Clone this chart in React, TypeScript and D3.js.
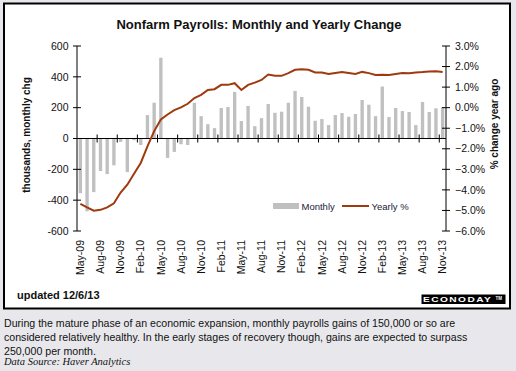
import React from 'react';
import * as d3 from 'd3';

// monthly payroll change, thousands (May-09 .. Nov-13)
const monthly = [
  -355, -472, -348, -211, -231, -174, -22, -218, -11, -42,
  152, 232, 524, -126, -87, -37, -42, 232, 145, 93,
  67, 198, 204, 302, 113, 211, 80, 132, 224, 167,
  174, 232, 309, 269, 206, 115, 126, 87, 152, 165,
  141, 159, 250, 219, 145, 337, 139, 198, 178, 172,
  87, 237, 172, 196, 203,
];
// yearly % change
const yearly = [
  -4.68, -4.85, -5.01, -4.97, -4.85, -4.65, -4.13, -3.75, -3.21, -2.69,
  -1.88, -1.14, -0.57, -0.33, -0.12, 0.01, 0.19, 0.47, 0.62, 0.86,
  0.9, 1.11, 1.11, 1.19, 0.86, 1.11, 1.22, 1.35, 1.61, 1.55,
  1.55, 1.68, 1.84, 1.87, 1.84, 1.71, 1.71, 1.64, 1.69, 1.73,
  1.69, 1.64, 1.74, 1.68, 1.59, 1.6, 1.59, 1.64, 1.69, 1.68,
  1.71, 1.73, 1.76, 1.77, 1.74,
];
const leftTicks = [600, 400, 200, 0, -200, -400, -600];
const rightTicks = [3, 2, 1, 0, -1, -2, -3, -4, -5, -6];
const fmtMonth = d3.timeFormat('%b-%y');
const months = d3.timeMonths(new Date(2009, 4, 1), new Date(2013, 11, 1)).map(fmtMonth);

const W = 516, H = 371;
const left = 77, right = 446, top = 46, bottom = 231;
const lineColor = '#9e3a0e';
const font = 'Arial, "Liberation Sans", sans-serif';

export default function App() {
  const x = d3.scaleBand().domain(months).range([left, right]).paddingInner(0.5).paddingOuter(0.25);
  const yL = d3.scaleLinear().domain([-600, 600]).range([bottom, top]);
  const yR = d3.scaleLinear().domain([-6, 3]).range([bottom, top]);
  const gap = (x.step() - x.bandwidth()) / 2;
  const cx = (m: string) => (x(m) as number) + x.bandwidth() / 2;
  const line = d3.line<number>().x((_, i) => cx(months[i])).y(d => yR(d));
  const y0 = yL(0);
  const boundaries = months.map((m, i) => i).filter(i => i > 0 && i % 3 === 0);
  const labelled = months.filter((m, i) => i % 3 === 0);
  const fmtPct = d3.format('.1f');

  return (
    <svg width={W} height={H} style={{ position: 'absolute', left: 0, top: 0 }} fontFamily={font}>
      <rect x={0} y={0} width={W} height={H} fill="#e8e8ec" />
      <rect x={4} y={3.5} width={506} height={305} fill="#fff" stroke="#000" strokeWidth={2} />
      <text x={259} y={29} textAnchor="middle" fontSize={13} fontWeight="bold" fill="#111">
        Nonfarm Payrolls: Monthly and Yearly Change
      </text>

      {/* bars */}
      {monthly.map((v, i) => (
        <rect key={i} x={x(months[i])} width={x.bandwidth()} y={Math.min(yL(v), y0)}
          height={Math.abs(yL(v) - y0)} fill="#c0c0c0" />
      ))}

      {/* axes */}
      <line x1={left} x2={left} y1={top} y2={bottom} stroke="#000" />
      <line x1={right} x2={right} y1={top} y2={bottom} stroke="#000" />
      <line x1={left} x2={right} y1={y0} y2={y0} stroke="#000" />
      {boundaries.map(i => {
        const bx = (x(months[i]) as number) - gap;
        return <line key={i} x1={bx} x2={bx} y1={y0 - 4} y2={y0 + 4} stroke="#000" />;
      })}
      {leftTicks.map(t => (
        <g key={t}>
          <line x1={left - 4} x2={left + 4} y1={yL(t)} y2={yL(t)} stroke="#000" />
          <text x={left - 8.5} y={yL(t)} dy="0.35em" textAnchor="end" fontSize={10.5} fill="#111">{t}</text>
        </g>
      ))}
      {rightTicks.map(t => (
        <g key={t}>
          <line x1={right - 4} x2={right + 4} y1={yR(t)} y2={yR(t)} stroke="#000" />
          <text x={right + 9} y={yR(t)} dy="0.35em" fontSize={10.5} fill="#111">{fmtPct(t)}%</text>
        </g>
      ))}
      {labelled.map(m => (
        <text key={m} transform={`translate(${cx(m)},240) rotate(-90)`} dy="0.35em" textAnchor="end"
          fontSize={10.5} fill="#111">{m}</text>
      ))}
      <text transform="translate(30,135) rotate(-90)" textAnchor="middle" fontSize={10} fontWeight="bold" fill="#111">
        thousands, monthly chg
      </text>
      <text transform="translate(498,124) rotate(-90)" textAnchor="middle" fontSize={10} fontWeight="bold" fill="#111">
        % change year ago
      </text>

      {/* yearly line */}
      <path d={line(yearly) || ''} fill="none" stroke={lineColor} strokeWidth={2} />

      {/* legend */}
      <rect x={273} y={203} width={26} height={6} fill="#c0c0c0" />
      <text x={301.5} y={209.5} fontSize={9.5} fill="#1a1a3a">Monthly</text>
      <line x1={342} x2={369} y1={206} y2={206} stroke={lineColor} strokeWidth={2} />
      <text x={371.5} y={209.5} fontSize={9.5} fill="#1a1a3a">Yearly %</text>

      <text x={17} y={298.5} fontSize={11} fontWeight="bold" fill="#111">updated 12/6/13</text>
      <rect x={421.5} y={294.5} width={84} height={9.5} fill="#000" />
      <text transform="translate(423,302.3) scale(1.45,1)" fontSize={7} fontWeight="bold" fill="#fff" letterSpacing={1}>ECONODAY</text>
      <text x={495.5} y={300} fontSize={4.5} fontWeight="bold" fill="#fff">TM</text>

      <g fontSize={10.6} fill="#111">
        <text x={4} y={327}>During the mature phase of an economic expansion, monthly payrolls gains of 150,000 or so are</text>
        <text x={4} y={341}>considered relatively healthy. In the early stages of recovery though, gains are expected to surpass</text>
        <text x={4} y={355}>250,000 per month.</text>
      </g>
      <text x={4} y={364.5} fontSize={10.5} fontStyle="italic" fontFamily='"Liberation Serif", "Times New Roman", serif' fill="#111">
        Data Source: Haver Analytics
      </text>
    </svg>
  );
}
